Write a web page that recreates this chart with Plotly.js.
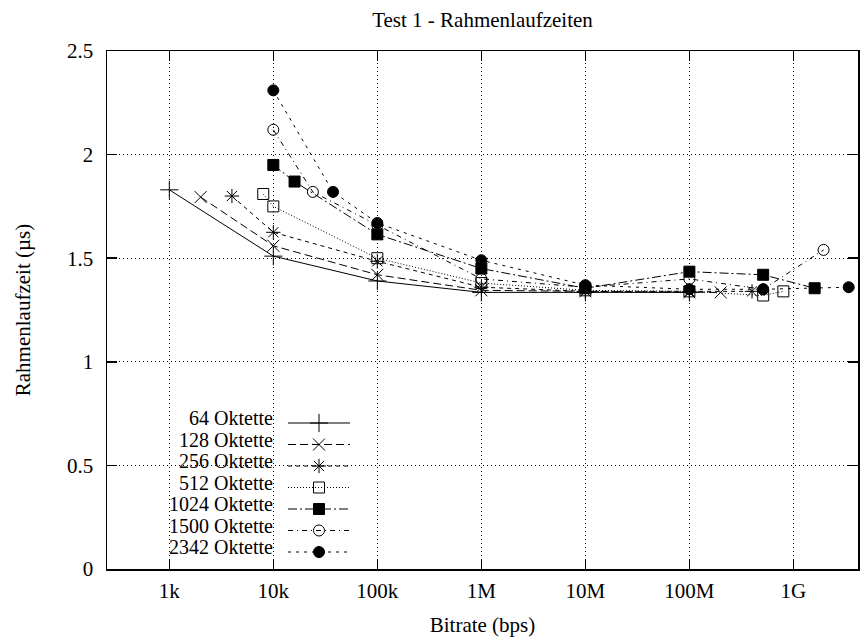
<!DOCTYPE html>
<html>
<head>
<meta charset="utf-8">
<script src="https://cdn.plot.ly/plotly-3.0.1.min.js"></script>
<style>html,body{margin:0;padding:0;background:#fff}#chart{width:861px;height:637px}</style>
</head>
<body>
<div id="chart"></div>
<script>
// Bitrate (bps) and frame transit time (µs) per frame size
const seriesNames = ["64 Oktette","128 Oktette","256 Oktette","512 Oktette","1024 Oktette","1500 Oktette","2342 Oktette"];
const rates64   = [1e3, 1e4, 1e5, 1e6, 1e7, 1e8];
const vals64    = [1.83, 1.51, 1.39, 1.335, 1.335, 1.335];
const rates128  = [2e3, 1e4, 1e5, 1e6, 1e7, 1e8, 2e8];
const vals128   = [1.795, 1.56, 1.42, 1.345, 1.34, 1.335, 1.335];
const rates256  = [4e3, 1e4, 1e5, 1e6, 1e7, 1e8, 4e8];
const vals256   = [1.80, 1.625, 1.485, 1.36, 1.34, 1.34, 1.34];
const rates512  = [8e3, 1e4, 1e5, 1e6, 1e7, 1e8, 5.12e8, 8e8];
const vals512   = [1.81, 1.75, 1.50, 1.38, 1.345, 1.34, 1.32, 1.34];
const rates1024 = [1e4, 1.6e4, 1e5, 1e6, 1e7, 1e8, 5.12e8, 1.6e9];
const vals1024  = [1.95, 1.87, 1.615, 1.45, 1.355, 1.435, 1.42, 1.355];
const rates1500 = [1e4, 2.4e4, 1e5, 1e6, 1e7, 1e8, 5.12e8, 1.95e9];
const vals1500  = [2.12, 1.82, 1.66, 1.40, 1.36, 1.40, 1.35, 1.54];
const rates2342 = [1e4, 3.75e4, 1e5, 1e6, 1e7, 1e8, 5.12e8, 3.4e9];
const vals2342  = [2.31, 1.82, 1.67, 1.49, 1.37, 1.35, 1.35, 1.36];
const xTickVals = [1e3, 1e4, 1e5, 1e6, 1e7, 1e8, 1e9];
const xTickText = ["1k","10k","100k","1M","10M","100M","1G"];

const allRates = [rates64, rates128, rates256, rates512, rates1024, rates1500, rates2342];
const allVals  = [vals64, vals128, vals256, vals512, vals1024, vals1500, vals2342];
const symbols  = ["cross-thin-open","x-thin-open","asterisk-open","square-open","square","circle-open","circle"];
const dashes   = ["solid","8px,4px","4px,4px","1px,2px","9px,3px,2px,3px","5px,4px,1px,4px","3px,5px"];
const sizes    = [13, 12, 12, 11, 11, 11, 11];

const FONT = "Liberation Serif, Times New Roman, serif";
const FS = 21;
const traces = allRates.map((r, i) => ({
  x: r, y: allVals[i], type: "scatter", mode: "lines+markers",
  name: " ",
  line: {color: "#000", width: 1, dash: dashes[i]},
  marker: {symbol: symbols[i], size: sizes[i], color: "#000", line: {color: "#000", width: 1}}
}));

const rowH = 21.5;                       // px between legend rows
const legendTop = 547 - 6 * rowH - rowH / 2;
const legendFont = (rowH - 3) / 1.3;     // plotly legend row height = 1.3*font + 3
const annotations = seriesNames.map((n, i) => ({
  xref: "paper", yref: "paper",
  x: (274 - 107) / 751, xanchor: "right",
  y: 1 - (legendTop + rowH * i + rowH / 2 - 51) / 518, yanchor: "middle",
  text: n, showarrow: false, borderpad: 0,
  font: {family: FONT, size: 20, color: "#000"}
}));

// white key box that hides the grid behind the legend (as in gnuplot)
const px2x = p => (p - 107) / 751;
const px2y = p => 1 - (p - 51) / 518;
const keyBox = {
  type: "rect", xref: "paper", yref: "paper", layer: "between",
  x0: px2x(156), x1: px2x(362), y0: px2y(559), y1: px2y(405),
  fillcolor: "#fff", line: {width: 0}
};

const layout = {
  width: 861, height: 637,
  margin: {l: 107, r: 3, t: 51, b: 68},
  paper_bgcolor: "#fff", plot_bgcolor: "#fff",
  font: {family: FONT, size: FS, color: "#000"},
  title: {text: "Test 1 - Rahmenlaufzeiten", x: 0.5, xref: "paper", y: 1 - 20/637, yanchor: "middle", font: {family: FONT, size: FS}},
  xaxis: {
    type: "log", range: [2.401, 9.621],
    tickvals: xTickVals, ticktext: xTickText,
    ticks: "inside", ticklen: 10, tickwidth: 1.5, tickcolor: "#000",
    showline: true, linecolor: "#000", linewidth: 1.5, mirror: "ticks",
    showgrid: true, gridcolor: "#000", griddash: "1px,3px", gridwidth: 1,
    zeroline: false, ticklabelstandoff: 2,
    title: {text: "Bitrate (bps)", font: {family: FONT, size: FS}, standoff: 18},
    tickfont: {family: FONT, size: FS}
  },
  yaxis: {
    range: [0, 2.5], dtick: 0.5, tick0: 0,
    ticks: "inside", ticklen: 10, tickwidth: 1.5, tickcolor: "#000",
    showline: true, linecolor: "#000", linewidth: 1.5, mirror: "ticks",
    showgrid: true, gridcolor: "#000", griddash: "1px,3px", gridwidth: 1,
    zeroline: false, ticklabelstandoff: 8,
    title: {text: "Rahmenlaufzeit (µs)", font: {family: FONT, size: FS}, standoff: 30},
    tickfont: {family: FONT, size: FS}
  },
  showlegend: true,
  legend: {
    x: px2x(283), xanchor: "left",
    y: px2y(legendTop), yanchor: "top",
    bgcolor: "rgba(0,0,0,0)", borderwidth: 0,
    font: {family: FONT, size: legendFont}, itemwidth: 62, tracegroupgap: 0
  },
  shapes: [keyBox],
  annotations: annotations
};

Plotly.newPlot("chart", traces, layout, {displayModeBar: false, staticPlot: true});
</script>
</body>
</html>
